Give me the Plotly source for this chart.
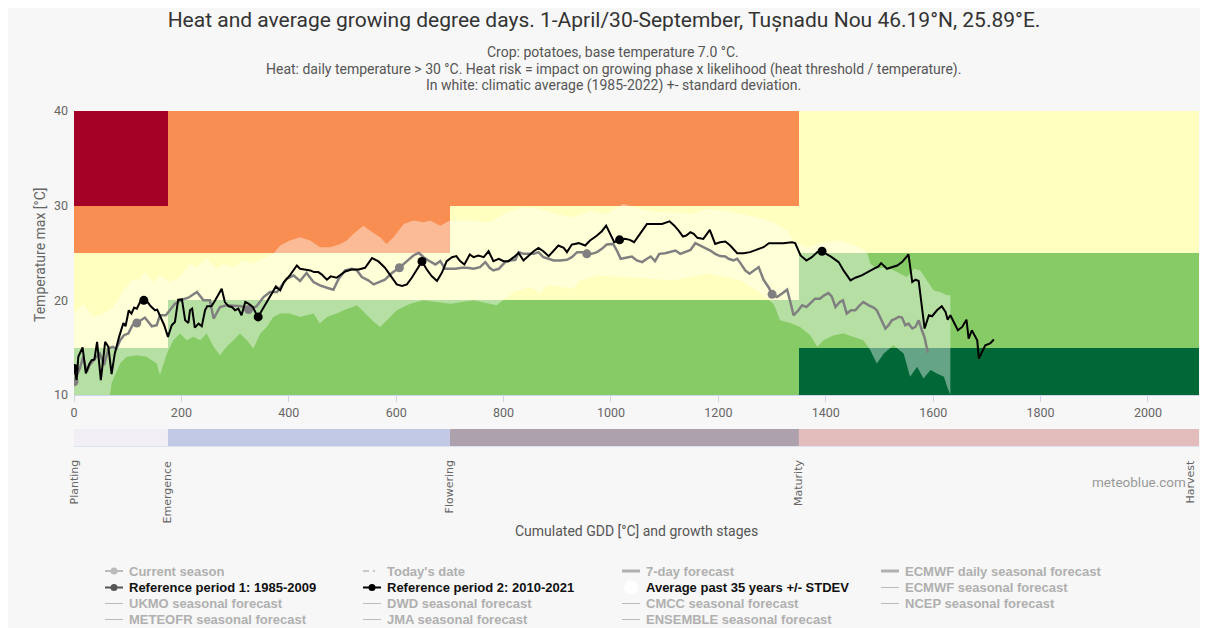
import plotly.graph_objects as go
import numpy as np

# ---------------- data ----------------
stage_names = ["Planting", "Emergence", "Flowering", "Maturity", "Harvest"]
stage_gdd = [0, 175, 700, 1350, 2095]
temp_bounds = [10, 15, 20, 25, 30, 40]
# heat risk class per temperature band (rows, bottom->top) and growth stage (cols)
heat_risk = [
    [1, 1, 1, 0],
    [2, 1, 1, 1],
    [2, 2, 2, 1],
    [3, 3, 2, 2],
    [4, 3, 3, 2],
]

x_ticks = [0, 200, 400, 600, 800, 1000, 1200, 1400, 1600, 1800, 2000]
y_ticks = [10, 20, 30, 40]

# Reference period 1: 1985-2009
ref1_gdd = [0, 6, 11, 17, 24, 29, 36, 42, 48, 56, 64, 72, 79, 86, 93, 101, 109, 117, 132, 145,
            154, 160, 171, 188, 201, 213, 229, 241, 253, 260, 272, 284, 312, 325, 340, 353, 365,
            378, 396, 409, 421, 433, 446, 458, 471, 483, 493, 505, 517, 527, 536, 548, 558, 570,
            579, 592, 606, 620, 632, 642, 651, 660, 673, 682, 691, 701, 710, 722, 732, 744, 756,
            766, 774, 781, 791, 803, 812, 822, 828, 837, 846, 856, 865, 874, 884, 893, 905, 918,
            927, 937, 946, 955, 964, 974, 983, 992, 1004, 1011, 1018, 1030, 1039, 1048, 1058,
            1067, 1074, 1082, 1090, 1101, 1110, 1120, 1129, 1138, 1148, 1157, 1166, 1176, 1185,
            1194, 1203, 1213, 1219, 1228, 1235, 1241, 1250, 1258, 1266, 1275, 1284, 1294, 1300,
            1309, 1318, 1328, 1334, 1340, 1349, 1356, 1364, 1371, 1380, 1389, 1397, 1405, 1411,
            1418, 1426, 1432, 1439, 1447, 1455, 1463, 1470, 1480, 1489, 1495, 1503, 1511, 1517,
            1523, 1530, 1536, 1542, 1548, 1554, 1561, 1567, 1573, 1579, 1584, 1590]
ref1_tmax = [11.4, 12.28, 12.81, 14.04, 12.46, 13.16, 13.68, 14.04, 14.39, 13.16, 14.91, 15.09,
             14.91, 15.79, 16.32, 16.49, 17.37, 17.61, 18.18, 17.26, 17.37, 18.42, 18.42, 19.65,
             20.07, 20.28, 20.88, 20.0, 20.0, 18.07, 19.3, 19.47, 19.37, 19.02, 19.37, 20.35,
             20.88, 20.88, 22.28, 22.63, 22.04, 22.88, 21.93, 21.58, 21.33, 21.12, 22.28, 23.16,
             23.33, 23.16, 22.46, 22.11, 21.68, 21.93, 22.18, 22.88, 23.44, 24.14, 24.74, 25.02,
             24.56, 24.21, 23.79, 24.14, 23.33, 23.33, 23.33, 23.44, 23.44, 23.33, 23.51, 24.04,
             23.44, 23.16, 23.33, 24.04, 24.21, 24.28, 25.09, 24.91, 24.91, 24.91, 25.09, 24.56,
             24.39, 24.21, 24.21, 24.28, 24.56, 25.09, 25.09, 24.91, 24.91, 25.09, 25.44, 25.89,
             25.96, 25.26, 24.39, 24.56, 24.63, 24.21, 24.04, 24.39, 24.63, 24.14, 24.91, 24.98,
             25.09, 25.26, 24.91, 25.09, 25.33, 26.04, 25.79, 25.54, 25.26, 24.91, 24.67, 24.63,
             24.39, 24.21, 24.39, 23.93, 23.16, 22.81, 23.16, 23.51, 22.18, 21.33, 20.63, 20.35,
             20.7, 21.12, 19.82, 18.42, 18.95, 19.47, 19.3, 19.65, 20.18, 20.18, 20.53, 20.77,
             20.42, 19.3, 19.82, 20.0, 18.6, 18.95, 18.95, 19.47, 19.82, 19.47, 19.23, 18.95,
             18.07, 17.02, 17.37, 17.89, 18.07, 18.25, 18.18, 17.37, 17.54, 17.02, 17.19, 17.89,
             16.84, 16.07, 14.46]
ref1_month_gdd = [0, 117, 325, 606, 955, 1300]
ref1_month_tmax = [11.4, 17.61, 19.02, 23.44, 24.91, 20.63]

# Reference period 2: 2010-2021
ref2_gdd = [0, 5, 8, 16, 22, 29, 33, 38, 43, 50, 58, 64, 70, 76, 84, 92, 96, 102, 107, 112, 117,
            123, 130, 137, 143, 151, 155, 160, 168, 175, 182, 188, 194, 201, 207, 213, 216, 220,
            225, 232, 238, 244, 248, 256, 263, 275, 281, 288, 294, 300, 306, 312, 319, 325, 333,
            339, 343, 350, 359, 368, 376, 384, 391, 402, 415, 421, 430, 440, 447, 455, 461, 471,
            478, 489, 505, 517, 530, 542, 555, 567, 579, 592, 601, 611, 620, 629, 638, 648, 657,
            666, 676, 685, 694, 704, 712, 719, 727, 737, 744, 753, 763, 772, 781, 791, 800, 809,
            819, 828, 837, 846, 856, 865, 874, 884, 893, 902, 912, 918, 927, 940, 952, 961, 974,
            983, 991, 999, 1006, 1016, 1026, 1035, 1043, 1054, 1067, 1082, 1095, 1109, 1118,
            1126, 1134, 1140, 1148, 1154, 1161, 1172, 1184, 1194, 1203, 1213, 1222, 1235, 1247,
            1259, 1272, 1284, 1294, 1309, 1321, 1337, 1343, 1353, 1364, 1374, 1384, 1393, 1402,
            1411, 1424, 1433, 1446, 1455, 1467, 1477, 1489, 1498, 1503, 1514, 1523, 1533, 1542,
            1548, 1554, 1561, 1567, 1573, 1584, 1592, 1598, 1607, 1616, 1623, 1627, 1632, 1638,
            1646, 1654, 1662, 1666, 1672, 1682, 1685, 1691, 1697, 1706, 1713]
ref2_tmax = [12.81, 11.58, 14.04, 15.02, 12.28, 13.33, 13.68, 13.75, 15.61, 11.58, 15.61, 15.09,
             12.21, 14.39, 16.14, 17.61, 17.26, 18.95, 18.6, 19.23, 19.12, 19.82, 20.0, 19.82,
             19.37, 18.95, 19.02, 18.42, 17.37, 16.14, 17.37, 17.72, 20.07, 20.1, 17.89, 17.61,
             18.95, 19.12, 17.12, 17.54, 17.26, 18.95, 19.37, 19.37, 20.0, 21.23, 19.82, 19.37,
             19.3, 18.95, 19.12, 18.42, 19.82, 19.65, 19.3, 18.6, 18.25, 18.95, 19.82, 20.7,
             21.47, 21.05, 21.93, 22.63, 23.68, 23.33, 23.23, 23.16, 22.98, 22.98, 22.74, 22.18,
             22.53, 22.39, 23.05, 23.26, 23.26, 23.44, 24.46, 24.11, 23.44, 22.39, 21.68, 21.51,
             21.68, 22.39, 23.16, 24.11, 23.26, 22.56, 22.04, 22.91, 24.14, 24.56, 24.67, 24.14,
             23.79, 24.84, 24.56, 24.74, 24.56, 25.19, 24.14, 24.39, 24.14, 24.14, 24.56, 25.0,
             24.21, 24.67, 25.19, 25.54, 25.19, 24.67, 25.26, 25.79, 25.54, 25.09, 25.89, 26.04,
             25.79, 26.32, 26.84, 27.3, 27.89, 27.02, 26.14, 26.39, 26.49, 26.39, 26.14, 27.02,
             28.07, 28.07, 28.07, 28.35, 27.89, 27.37, 26.74, 26.84, 27.19, 27.02, 26.6, 26.49,
             27.44, 25.96, 26.14, 26.21, 25.79, 24.98, 24.98, 25.09, 25.33, 25.61, 26.04, 26.04,
             26.04, 26.14, 26.04, 24.74, 24.21, 24.56, 25.09, 25.19, 24.91, 24.56, 24.04, 23.16,
             22.11, 22.39, 22.63, 22.98, 23.33, 23.58, 23.93, 23.33, 23.51, 23.68, 24.04, 24.39,
             24.84, 21.93, 22.18, 22.04, 17.02, 18.42, 18.32, 18.95, 19.37, 18.77, 17.96, 18.42,
             17.72, 16.84, 17.19, 17.96, 15.96, 16.84, 15.79, 13.86, 14.56, 15.26, 15.44, 15.86]
ref2_month_gdd = [0, 130, 343, 648, 1016, 1393]
ref2_month_tmax = [12.81, 20.0, 18.25, 24.11, 26.39, 25.19]

# Climatic average +/- standard deviation (upper and lower envelope)
band_upper_gdd = [0, 17, 36, 55, 73, 92, 107, 123, 132, 148, 160, 179, 197, 216, 229, 247, 266,
                  278, 297, 315, 334, 353, 371, 384, 402, 421, 440, 458, 477, 496, 508, 520, 539,
                  551, 570, 582, 595, 614, 632, 651, 663, 682, 700, 744, 775, 806, 837, 868, 899,
                  930, 961, 992, 1023, 1054, 1085, 1116, 1148, 1179, 1210, 1241, 1272, 1303, 1328,
                  1340, 1365, 1396, 1427, 1464, 1477, 1483, 1495, 1514, 1533, 1551, 1564, 1576,
                  1588, 1601, 1613, 1626, 1632]
band_upper_tmax = [18.6, 19.65, 18.25, 18.6, 19.3, 21.05, 22.1, 22.28, 22.98, 21.93, 22.63, 21.93,
                   22.46, 23.86, 23.51, 24.39, 23.33, 23.86, 23.51, 24.21, 23.86, 24.39, 24.91,
                   25.79, 26.32, 26.67, 26.32, 25.61, 25.61, 25.96, 26.32, 27.02, 27.89, 27.37,
                   26.67, 25.96, 26.67, 28.07, 28.42, 28.25, 28.42, 27.89, 28.42, 28.42, 28.25,
                   29.3, 29.82, 29.65, 29.12, 28.77, 29.47, 29.12, 30.17, 29.65, 29.3, 29.3, 29.12,
                   29.65, 29.47, 29.12, 28.77, 28.25, 27.37, 26.32, 25.61, 26.14, 26.32, 25.61,
                   25.09, 23.86, 23.33, 23.51, 22.98, 22.46, 23.33, 23.16, 22.11, 21.05, 20.88,
                   20.53, 20.53]
band_lower_gdd = [0, 67, 70, 86, 98, 117, 135, 154, 160, 173, 185, 197, 210, 222, 235, 247, 260,
                  272, 284, 297, 309, 322, 334, 347, 359, 371, 384, 402, 421, 446, 458, 471, 489,
                  502, 527, 539, 555, 570, 586, 601, 626, 651, 676, 701, 744, 787, 819, 850, 868,
                  881, 912, 930, 943, 974, 1023, 1116, 1179, 1241, 1284, 1303, 1315, 1334, 1352,
                  1371, 1384, 1396, 1415, 1433, 1452, 1470, 1483, 1495, 1508, 1526, 1545, 1557,
                  1570, 1582, 1595, 1607, 1620, 1626, 1632]
band_lower_tmax = [10.0, 10.0, 11.23, 13.33, 14.04, 14.21, 14.04, 13.33, 12.11, 14.39, 15.79,
                   16.49, 15.79, 16.14, 15.79, 16.49, 15.09, 14.21, 15.09, 15.79, 16.49, 15.79,
                   14.91, 16.49, 17.19, 18.25, 18.6, 18.6, 18.25, 18.6, 17.54, 18.25, 18.6, 18.95,
                   19.47, 18.77, 17.89, 17.19, 18.07, 18.95, 19.65, 20.0, 19.82, 19.65, 20.0,
                   19.47, 20.88, 21.4, 20.7, 21.58, 21.4, 21.23, 22.11, 22.63, 22.46, 22.11, 22.81,
                   22.11, 20.5, 19.6, 17.9, 17.6, 17.19, 16.32, 15.09, 15.79, 16.32, 16.49, 16.14,
                   15.79, 14.74, 13.33, 14.39, 15.26, 14.39, 11.93, 12.98, 11.75, 12.63, 12.28,
                   11.93, 10.88, 10.0]

legend_rows = [
    ["Current season", "Today's date", "7-day forecast", "ECMWF daily seasonal forecast"],
    ["Reference period 1: 1985-2009", "Reference period 2: 2010-2021",
     "Average past 35 years +/- STDEV", "ECMWF seasonal forecast"],
    ["UKMO seasonal forecast", "DWD seasonal forecast", "CMCC seasonal forecast",
     "NCEP seasonal forecast"],
    ["METEOFR seasonal forecast", "JMA seasonal forecast", "ENSEMBLE seasonal forecast", None],
]

# ---------------- styles / geometry ----------------
risk_colors = ["#006837", "#86cb66", "#ffffbf", "#f98e52", "#a50026"]
stage_colors = ["#f1eff4", "#c2c9e6", "#ada1ad", "#e3bcbc"]
SANS = "Roboto"
OFF = 8                      # page body margin of the html page
W, H = 1208 - 2 * OFF, 628 - OFF
PL, PR, PT, PB = 74, 1199, 111, 450  # plotting region in screen px (incl. stage bar)


def fx(px):
    return (px - PL) / (PR - PL)


def fy(py):
    return (PB - py) / (PB - PT)


cs = []
n = len(risk_colors)
for i, c in enumerate(risk_colors):
    cs.append([i / n, c])
    cs.append([(i + 1) / n, c])

fig = go.Figure()

fig.add_trace(go.Heatmap(
    x=stage_gdd, y=temp_bounds, z=heat_risk, colorscale=cs, zmin=-0.5, zmax=4.5,
    showscale=False, hoverinfo="skip", xaxis="x", yaxis="y"))

fig.add_trace(go.Scatter(
    x=band_upper_gdd + band_lower_gdd[::-1], y=band_upper_tmax + band_lower_tmax[::-1],
    fill="toself", fillcolor="rgba(255,255,255,0.4)", mode="lines", line=dict(width=0),
    hoverinfo="skip", showlegend=False))

fig.add_trace(go.Scatter(x=ref1_gdd, y=ref1_tmax, mode="lines",
                         line=dict(color="#808080", width=2.5), showlegend=False))
fig.add_trace(go.Scatter(x=ref1_month_gdd, y=ref1_month_tmax, mode="markers",
                         marker=dict(color="#808080", size=9), showlegend=False))
fig.add_trace(go.Scatter(x=ref2_gdd, y=ref2_tmax, mode="lines",
                         line=dict(color="#000000", width=2), showlegend=False))
fig.add_trace(go.Scatter(x=ref2_month_gdd, y=ref2_month_tmax, mode="markers",
                         marker=dict(color="#000000", size=9), showlegend=False))

# growth stage bar
fig.add_trace(go.Bar(
    x=list(np.diff(stage_gdd)), base=stage_gdd[:-1], y=[0] * (len(stage_gdd) - 1),
    orientation="h", width=1, marker=dict(color=stage_colors, line=dict(width=0)),
    xaxis="x2", yaxis="y2", hoverinfo="skip", showlegend=False))

annotations = []
shapes = []

# subtitle lines
subs = ["Crop: potatoes, base temperature 7.0 °C.",
        "Heat: daily temperature > 30 °C. Heat risk = impact on growing phase x likelihood (heat threshold / temperature).",
        "In white: climatic average (1985-2022) +- standard deviation."]
for s, py in zip(subs, [52, 69, 85]):
    annotations.append(dict(text=s, xref="paper", yref="paper", x=fx(613), y=fy(py),
                            xanchor="center", yanchor="middle", showarrow=False,
                            font=dict(family=SANS, size=14, color="#555555")))

# stage labels
for name, g in zip(stage_names, stage_gdd):
    last = name == stage_names[-1]
    annotations.append(dict(text=name, xref="x", yref="paper", x=g, y=fy(458),
                            xanchor="right" if last else "center", yanchor="top",
                            textangle=-90, showarrow=False,
                            font=dict(family="DejaVu Sans", size=11, color="#666666")))

annotations.append(dict(text="Temperature max [°C]", xref="paper", yref="paper", x=fx(40),
                        y=fy(255), textangle=-90, showarrow=False, xanchor="center",
                        yanchor="middle", font=dict(family=SANS, size=14, color="#666666")))
annotations.append(dict(text="Cumulated GDD [°C] and growth stages", xref="paper", yref="paper",
                        x=fx(636), y=fy(531), showarrow=False, xanchor="center", yanchor="middle",
                        font=dict(family=SANS, size=14, color="#555555")))
annotations.append(dict(text="meteoblue.com", xref="paper", yref="paper", x=fx(1188), y=fy(482),
                        showarrow=False, xanchor="right", yanchor="middle",
                        font=dict(family=SANS, size=13.5, color="#999999")))

# legend
col_x = [127, 385, 644, 903]
row_y = [571, 587.5, 603.5, 619.5]
active = {"Reference period 1: 1985-2009": "#555555",
          "Reference period 2: 2010-2021": "#000000",
          "Average past 35 years +/- STDEV": "white"}
for r, row in enumerate(legend_rows):
    for c, name in enumerate(row):
        if name is None:
            continue
        tx, ty = col_x[c], row_y[r]
        is_active = name in active
        annotations.append(dict(text=name, xref="paper", yref="paper", x=fx(tx), y=fy(ty),
                                xanchor="left", yanchor="middle", showarrow=False,
                                font=dict(family="Liberation Sans", size=13,
                                          color="#111111" if is_active else "#b0b0b0",
                                          weight="bold")))
        x0, x1 = tx - 22, tx - 4
        cx = (x0 + x1) / 2
        if name == "Average past 35 years +/- STDEV":
            r_ = 7
            shapes.append(dict(type="circle", xref="paper", yref="paper",
                               x0=fx(cx - r_), x1=fx(cx + r_), y0=fy(ty + r_), y1=fy(ty - r_),
                               fillcolor="white", line=dict(width=0)))
            continue
        if name in ("Current season", "Reference period 1: 1985-2009",
                    "Reference period 2: 2010-2021"):
            col = active.get(name, "#bbbbbb")
            shapes.append(dict(type="line", xref="paper", yref="paper", x0=fx(x0), x1=fx(x1),
                               y0=fy(ty), y1=fy(ty), line=dict(color=col, width=2)))
            r_ = 3.5
            shapes.append(dict(type="circle", xref="paper", yref="paper",
                               x0=fx(cx - r_), x1=fx(cx + r_), y0=fy(ty + r_), y1=fy(ty - r_),
                               fillcolor=col, line=dict(width=0)))
        elif name == "Today's date":
            shapes.append(dict(type="line", xref="paper", yref="paper", x0=fx(x0), x1=fx(x1),
                               y0=fy(ty), y1=fy(ty),
                               line=dict(color="#bbbbbb", width=1.5, dash="6px,4px,2px,6px")))
        elif name in ("7-day forecast", "ECMWF daily seasonal forecast"):
            shapes.append(dict(type="line", xref="paper", yref="paper", x0=fx(x0), x1=fx(x1),
                               y0=fy(ty), y1=fy(ty), line=dict(color="#b0b0b0", width=3)))
        else:
            shapes.append(dict(type="line", xref="paper", yref="paper", x0=fx(x0), x1=fx(x1),
                               y0=fy(ty), y1=fy(ty), line=dict(color="#bbbbbb", width=1)))

fig.update_layout(
    width=W, height=H,
    margin=dict(l=PL - OFF, r=W - (PR - OFF), t=PT - OFF, b=H - (PB - OFF), pad=0),
    paper_bgcolor="#f7f7f7", plot_bgcolor="#f7f7f7",
    showlegend=False,
    font=dict(family=SANS, color="#666666"),
    title=dict(text="Heat and average growing degree days. 1-April/30-September, Tușnadu Nou 46.19°N, 25.89°E.",
               x=fx(604), xref="paper", xanchor="center", y=1 - (20 - OFF) / H, yanchor="middle",
               font=dict(family=SANS, size=21, color="#333333")),
    xaxis=dict(range=[0, stage_gdd[-1]], tickvals=x_ticks, ticks="outside", ticklen=6,
               tickcolor="#ccd6eb", showline=True, linecolor="#ccd6eb", showgrid=False,
               zeroline=False, anchor="y", tickfont=dict(size=12.5, color="#666666")),
    yaxis=dict(range=[10, 40], tickvals=y_ticks, domain=[fy(395), 1], showgrid=False,
               zeroline=False, ticks="", ticklabelstandoff=5,
               tickfont=dict(size=12.5, color="#666666")),
    xaxis2=dict(matches="x", anchor="y2", showticklabels=False, ticks="", showgrid=False,
                zeroline=False, showline=True, linecolor="#dbe2f0"),
    yaxis2=dict(domain=[fy(446), fy(429)], range=[-0.5, 0.5], showticklabels=False,
                showgrid=False, zeroline=False, ticks=""),
    annotations=annotations, shapes=shapes,
)

fig.write_html("out.html")
